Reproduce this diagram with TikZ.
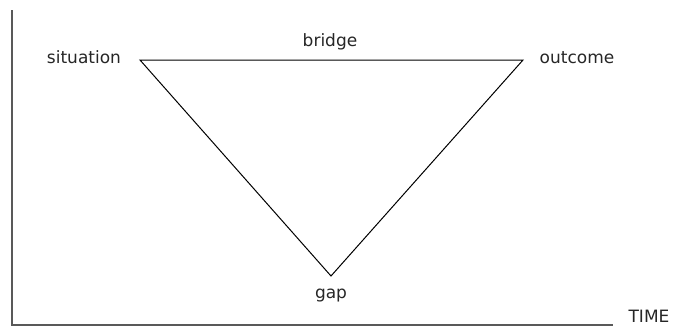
\documentclass[tikz,border=0pt]{standalone}
\usepackage{fontspec}
\setmainfont{DejaVu Sans}
\begin{document}
\begin{tikzpicture}[x=1pt,y=-1pt,
  lbl/.style={font=\fontsize{17}{20}\selectfont, text=black!85, inner sep=0pt},
  axis/.style={draw=black!65, line width=1.4pt},
  tri/.style={draw=black, line width=1pt}]
\useasboundingbox (0,0) rectangle (675,327);
\coordinate (top) at (12,10);
\coordinate (origin) at (12,325);
\coordinate (xend) at (613,325);
\draw[axis] (top) -- (origin) -- (xend);
\coordinate (s) at (140,60);
\coordinate (o) at (523,60);
\coordinate (g) at (331,276);
\draw[tri] (s) -- (o) -- (g) -- cycle;
\node[lbl] (situation) at (84,57) {situation};
\node[lbl] (outcome) at (577,58) {outcome};
\node[lbl] (bridge) at (330,42) {bridge};
\node[lbl] (gap) at (331,296) {gap};
\node[lbl] (time) at (649,316) {TIME};
\end{tikzpicture}
\end{document}
